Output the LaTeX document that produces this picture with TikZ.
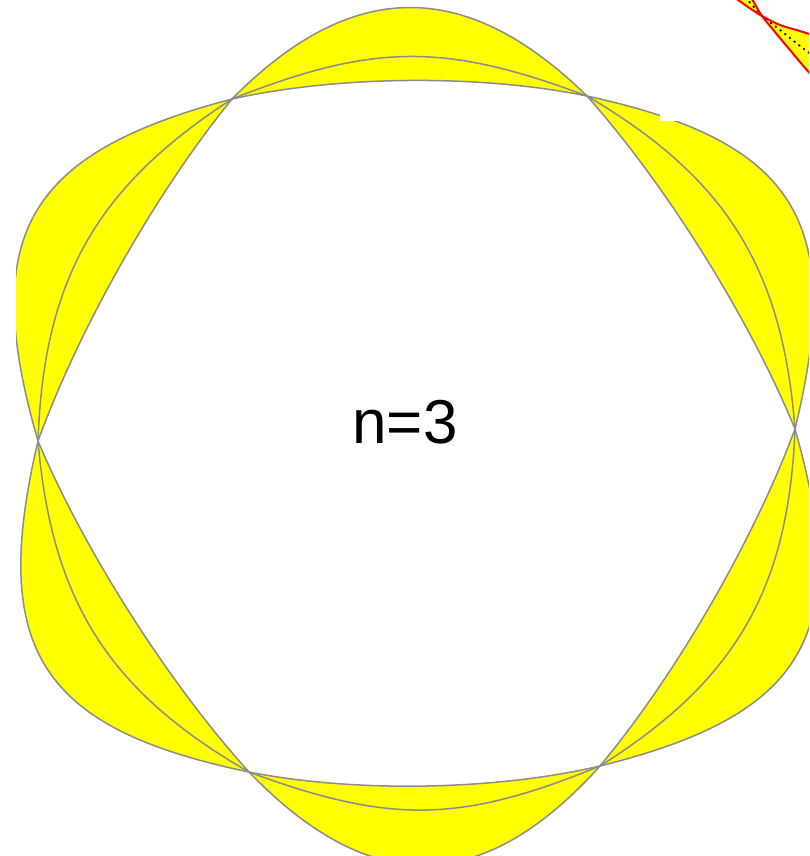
\documentclass[tikz,border=0pt]{standalone}
\usepackage{fontspec}
\newfontfamily\arialf{Liberation Sans}
\usetikzlibrary{calc}
\definecolor{lobeyellow}{RGB}{255,255,0}
\definecolor{lobegray}{RGB}{140,140,140}
\definecolor{fragred}{RGB}{255,0,0}
\tikzset{
  lobeline/.style={draw=lobegray, line width=1.5pt},
  lobefill/.style={fill=lobeyellow},
  fragline/.style={draw=fragred, line width=2pt},
  fragdots/.style={draw=black, line width=1.6pt, dash pattern=on 2pt off 4pt},
  labeltext/.style={font=\arialf\fontsize{62}{62}\selectfont, anchor=base, inner sep=0pt}
}
% symmetric Bezier from #1 to #2, controls at fraction #3 of the chord, height #4, bulging to the left of travel
\newcommand{\fwd}[4]{.. controls ($(#1)!#3!(#2)!#4!90:(#2)$) and ($(#2)!#3!(#1)!#4!-90:(#1)$) .. (#2)}
% same kind of curve, bulging to the right of travel
\newcommand{\bwd}[4]{.. controls ($(#1)!#3!(#2)!#4!-90:(#2)$) and ($(#2)!#3!(#1)!#4!90:(#1)$) .. (#2)}
% lobe: P Q fout hout fmid hmid fin hin
\newcommand{\lobe}[8]{%
  \fill[lobefill] (#1) \fwd{#1}{#2}{#3}{#4} \bwd{#2}{#1}{#7}{#8} -- cycle;
  \draw[lobeline] (#1) \fwd{#1}{#2}{#3}{#4};
  \draw[lobeline] (#1) \fwd{#1}{#2}{#5}{#6};
  \draw[lobeline] (#1) \fwd{#1}{#2}{#7}{#8};
}
\newcommand{\toplobe}[3]{\lobe{#1}{#2}{0.34}{#3}{0.40}{54.7pt}{0.30}{22.7pt}}
\newcommand{\sidelobe}[2]{\lobe{#1}{#2}{0.38}{153pt}{0.364}{74.7pt}{0.30}{20pt}}
\begin{document}
\begin{tikzpicture}[x=1pt,y=-1pt]
\useasboundingbox (0,0) rectangle (809,856);
\coordinate (A) at (232,99);
\coordinate (B) at (587,96);
\coordinate (C) at (795,429);
\coordinate (D) at (600,766);
\coordinate (E) at (249,772);
\coordinate (F) at (38,441);
\begin{scope}
  \clip (16,0) rectangle (809,856);
  \toplobe{A}{B}{120pt}
  \sidelobe{B}{C}
  \sidelobe{C}{D}
  \toplobe{D}{E}{128pt}
  \sidelobe{E}{F}
  \sidelobe{F}{A}
\end{scope}
\fill[white] (660,0) rectangle (809,121);
\begin{scope}
  \clip (0,0) rectangle (809,856);
  \fill[lobeyellow] plot[smooth] coordinates {(734,-3) (748,7) (762,16)}
     -- plot[smooth] coordinates {(762,16) (756,6) (751,-3)} -- cycle;
  \fill[lobeyellow] plot[smooth] coordinates {(762,16) (780,25) (800,31) (812,35)}
     -- (812,76) -- plot[smooth] coordinates {(812,76) (800,62) (790,50) (775,32) (762,16)} -- cycle;
  \draw[fragdots] plot[smooth] coordinates {(745,-3) (753,6) (762,16) (780,30) (800,46) (812,55)};
  \draw[fragline] plot[smooth] coordinates {(734,-3) (748,7) (762,16) (780,25) (800,31) (812,35)};
  \draw[fragline] plot[smooth] coordinates {(751,-3) (756,6) (762,16) (775,32) (790,50) (800,62) (812,76)};
\end{scope}
\node[labeltext] (lbl) at (405,443) {n=3};
\end{tikzpicture}
\end{document}
